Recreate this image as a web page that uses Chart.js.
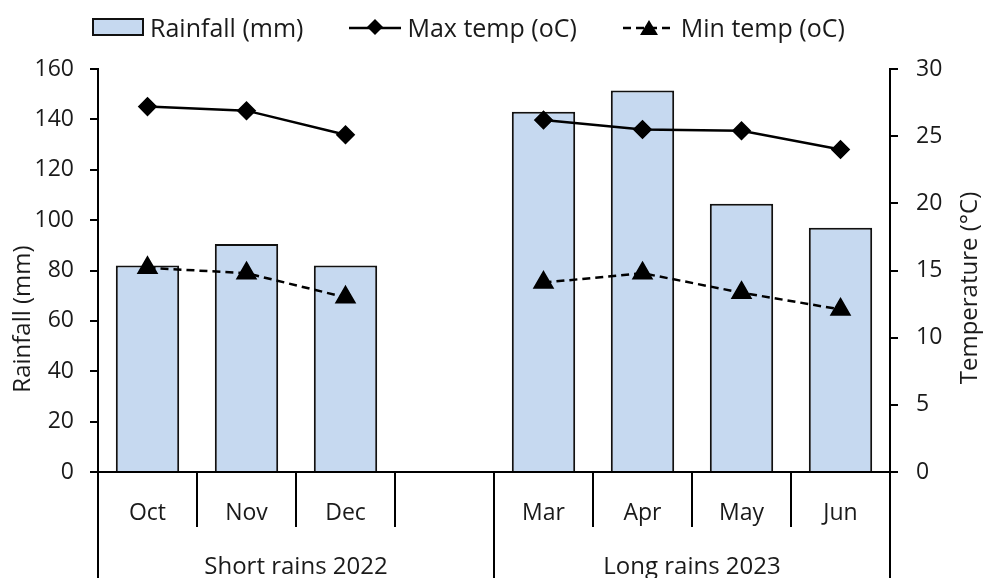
<!DOCTYPE html>
<html>
<head>
<meta charset="utf-8">
<script src="https://cdn.jsdelivr.net/npm/chart.js@4.4.1/dist/chart.umd.min.js"></script>
<style>
  body { margin: 0; background: #fff; font-family: "Open Sans", Lato, sans-serif; }
  #wrap { position: relative; width: 984px; height: 578px; }
  #legend { position: absolute; top: 12px; left: 92px; display: flex; align-items: center; font-size: 25px; line-height: 30px; color: #1a1a1a; }
  .item { display: flex; align-items: center; margin-right: 46px; }
  .item svg { margin-right: 6px; }
</style>
</head>
<body>
<div id="wrap">
  <canvas id="myChart" width="984" height="578"></canvas>
  <div id="legend"></div>
</div>
<script>
const categories = ['Oct', 'Nov', 'Dec', '', 'Mar', 'Apr', 'May', 'Jun'];
const rainfall = [82, 90.5, 82, null, 143, 151.5, 106.5, 97];
const maxTemp = [27.2, 26.9, 25.1, null, 26.2, 25.5, 25.4, 24.0];
const minTemp = [15.2, 14.8, 13.0, null, 14.1, 14.8, 13.35, 12.1];
const groupLabels = ['Short rains 2022', 'Long rains 2023'];
const groupSizes = [4, 4];

const textColor = '#1a1a1a';
const tickFont = { family: 'Open Sans', size: 23 };

// category boxes + group row under the x axis
const groupAxis = {
    id: 'groupAxis',
    afterDraw(chart) {
        const c = chart.ctx, x = chart.scales.x, base = chart.chartArea.bottom;
        const edge = k => x.getPixelForValue(k - 0.5);
        const groupEdges = [0];
        groupSizes.forEach(s => groupEdges.push(groupEdges[groupEdges.length - 1] + s));
        c.save();
        c.strokeStyle = '#000';
        c.lineWidth = 2;
        for (let k = 0; k <= categories.length; k++) {
            const px = Math.round(edge(k));
            const long = groupEdges.includes(k);
            c.beginPath();
            c.moveTo(px, base);
            c.lineTo(px, long ? chart.height : base + 55);
            c.stroke();
        }
        c.fillStyle = textColor;
        c.font = '24px "Open Sans"';
        c.textAlign = 'center';
        c.textBaseline = 'alphabetic';
        groupLabels.forEach((g, i) => {
            c.fillText(g, (edge(groupEdges[i]) + edge(groupEdges[i + 1])) / 2, 574);
        });
        // axis titles
        c.save();
        c.translate(23, 319);
        c.rotate(-Math.PI / 2);
        c.textBaseline = 'middle';
        c.fillText('Rainfall (mm)', 0, 0);
        c.restore();
        c.save();
        c.translate(970, 288);
        c.rotate(-Math.PI / 2);
        c.textBaseline = 'middle';
        c.fillText('Temperature (°C)', 0, 0);
        c.restore();
        c.restore();
    }
};

const data = {
    labels: categories,
    datasets: [{
        type: 'line',
        label: 'Max temp (oC)',
        data: maxTemp,
        yAxisID: 'y1',
        borderColor: '#000',
        backgroundColor: '#000',
        borderWidth: 2.5,
        pointStyle: 'rectRot',
        pointRadius: 8,
        spanGaps: false,
        order: 0
    }, {
        type: 'line',
        label: 'Min temp (oC)',
        data: minTemp,
        yAxisID: 'y1',
        borderColor: '#000',
        backgroundColor: '#000',
        borderWidth: 2.5,
        borderDash: [8, 5],
        pointStyle: 'triangle',
        pointRadius: 10,
        spanGaps: false,
        order: 0
    }, {
        type: 'bar',
        label: 'Rainfall (mm)',
        data: rainfall,
        yAxisID: 'y',
        backgroundColor: '#c6d9f0',
        borderColor: '#111',
        borderWidth: 2,
        categoryPercentage: 1,
        barPercentage: 0.64,
        order: 1
    }]
};

const config = {
    type: 'bar',
    data: data,
    options: {
        responsive: false,
        animation: false,
        layout: { padding: { top: 69, left: 0, right: 0, bottom: 0 } },
        plugins: {
            legend: { display: false },
            tooltip: { enabled: false }
        },
        scales: {
            x: {
                grid: { display: false },
                border: { display: true, color: '#000', width: 2 },
                ticks: { color: textColor, font: tickFont, padding: 20, maxRotation: 0, autoSkip: false },
                afterFit: s => { s.height = 106; }
            },
            y: {
                position: 'left',
                min: 0,
                max: 160,
                ticks: { stepSize: 20, color: textColor, font: tickFont, padding: 16 },
                grid: { drawOnChartArea: false, color: '#000', lineWidth: 2, tickLength: 8 },
                border: { color: '#000', width: 2 },
                afterFit: s => { s.width = 98; }
            },
            y1: {
                position: 'right',
                min: 0,
                max: 30,
                ticks: { stepSize: 5, color: textColor, font: tickFont, padding: 18 },
                grid: { drawOnChartArea: false, color: '#000', lineWidth: 2, tickLength: 8 },
                border: { color: '#000', width: 2 },
                afterFit: s => { s.width = 94; }
            }
        }
    },
    plugins: [groupAxis]
};

const myChart = new Chart(document.getElementById('myChart').getContext('2d'), config);

// html legend, built from the datasets
const swatch = ds => {
    if (ds.type === 'bar') {
        return '<svg width="52" height="18"><rect x="1" y="1" width="50" height="16" fill="' + ds.backgroundColor + '" stroke="#111" stroke-width="2"/></svg>';
    }
    const dash = ds.borderDash ? ' stroke-dasharray="8,5"' : '';
    const mark = ds.pointStyle === 'triangle'
        ? '<polygon points="26,2 35,17 17,17" fill="#000"/>'
        : '<polygon points="26,1 34,9 26,17 18,9" fill="#000"/>';
    return '<svg width="52" height="18"><line x1="0" y1="10" x2="52" y2="10" stroke="#000" stroke-width="2.5"' + dash + '/>' + mark + '</svg>';
};
const order = [2, 0, 1];
document.getElementById('legend').innerHTML = order.map(i => {
    const ds = data.datasets[i];
    return '<div class="item">' + swatch(ds) + '<span>' + ds.label + '</span></div>';
}).join('');
</script>
</body>
</html>
